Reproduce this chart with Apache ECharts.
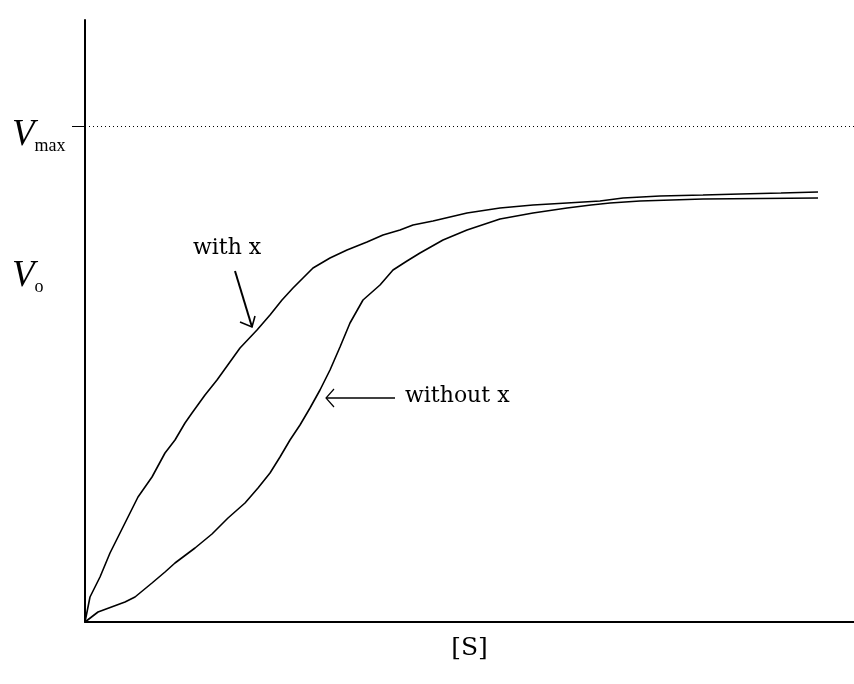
<!DOCTYPE html>
<html>
<head>
<meta charset="utf-8">
<script src="https://cdn.jsdelivr.net/npm/echarts@6/dist/echarts.min.js"></script>
<style>html,body{margin:0;padding:0;background:#fff}#c{width:854px;height:684px}</style>
</head>
<body>
<div id="c"></div>
<script>
// substrate concentration [S] (arbitrary units) and initial velocity V0 (arbitrary units)
var withX_S = [0,5,15,25,33,43,53,67,80,90,100,107,120,132,155,172,185,197,208,218,228,245,262,282,298,315,328,348,382,415,448,482,515,538,575,618,655,696,733];
var withX_V = [0,25,45,69,85,105,125,145,169,182,199,209,227,242,274,292,307,322,334,344,354,364,372,380,387,392,397,401,409,414,417,419,421,424,426,427,428,429,430];
var withoutX_S = [0,13,40,50,67,80,90,110,127,143,160,173,185,195,205,215,225,235,245,255,265,278,295,308,322,335,358,382,415,448,482,506,525,555,618,733];
var withoutX_V = [0,10,20,25,39,50,59,74,88,104,119,134,149,165,182,197,214,232,252,275,299,322,337,352,361,369,382,392,403,409,414,417,419,421,423,424];
var vmax = 496;
var v0Level = 355;
var sMax = 769;
var vTop = 602;

function pairs(xs, ys){ return xs.map(function(x,i){ return [x, ys[i]]; }); }

var chart = echarts.init(document.getElementById('c'));
var serif = 'Liberation Serif';
chart.setOption({
  animation: false,
  backgroundColor: '#fff',
  grid: {left: 85, right: 0, top: 20, bottom: 62},
  xAxis: {
    type: 'value', min: 0, max: sMax,
    axisLine: {show: true, lineStyle: {color: '#000', width: 2}},
    axisTick: {show: false}, axisLabel: {show: false}, splitLine: {show: false},
    name: '[S]', nameLocation: 'middle', nameGap: 14,
    nameTextStyle: {fontFamily: 'DejaVu Serif', fontSize: 25, color: '#000'}
  },
  yAxis: {
    type: 'value', min: 0, max: vTop,
    axisLine: {show: true, lineStyle: {color: '#000', width: 2}},
    axisTick: {show: true, customValues: [vmax], length: 13, lineStyle: {color: '#000', width: 1}},
    splitLine: {show: false},
    axisLabel: {
      show: true, customValues: [vmax, v0Level], margin: 73, align: 'left',
      padding: [18, 0, 0, 0],
      formatter: function(v){ return v === vmax ? '{v|V}{m|max}' : '{v|V}{o|o}'; },
      rich: {
        v: {fontFamily: serif, fontStyle: 'italic', fontSize: 37, color: '#000', lineHeight: 40},
        m: {fontFamily: serif, fontSize: 18, color: '#000', verticalAlign: 'bottom', lineHeight: 26},
        o: {fontFamily: serif, fontSize: 18, color: '#000', verticalAlign: 'bottom', lineHeight: 26}
      }
    }
  },
  series: [
    {
      name: 'with x', type: 'line', data: pairs(withX_S, withX_V),
      showSymbol: false, smooth: false,
      lineStyle: {color: '#000', width: 1.6},
      markLine: {
        silent: true, symbol: 'none', label: {show: false},
        lineStyle: {color: '#000', type: [1, 3], width: 1},
        data: [{yAxis: vmax}]
      }
    },
    {
      name: 'without x', type: 'line', data: pairs(withoutX_S, withoutX_V),
      showSymbol: false, smooth: false,
      lineStyle: {color: '#000', width: 1.6}
    }
  ],
  graphic: [
    {type: 'text', left: 193, top: 237, style: {text: 'with x', font: '22px "DejaVu Serif"', fill: '#000'}},
    {type: 'polyline', shape: {points: [[235,271],[252,327]]}, style: {stroke: '#000', lineWidth: 2}},
    {type: 'polyline', shape: {points: [[240,322],[252,327],[255,316]]}, style: {stroke: '#000', lineWidth: 1.6, fill: null}},
    {type: 'text', left: 405, top: 385, style: {text: 'without x', font: '22px "DejaVu Serif"', fill: '#000'}},
    {type: 'polyline', shape: {points: [[326,398],[395,398]]}, style: {stroke: '#000', lineWidth: 1.6}},
    {type: 'polyline', shape: {points: [[334,389],[326,398],[334,407]]}, style: {stroke: '#000', lineWidth: 1.2, fill: null}}
  ]
});
</script>
</body>
</html>
